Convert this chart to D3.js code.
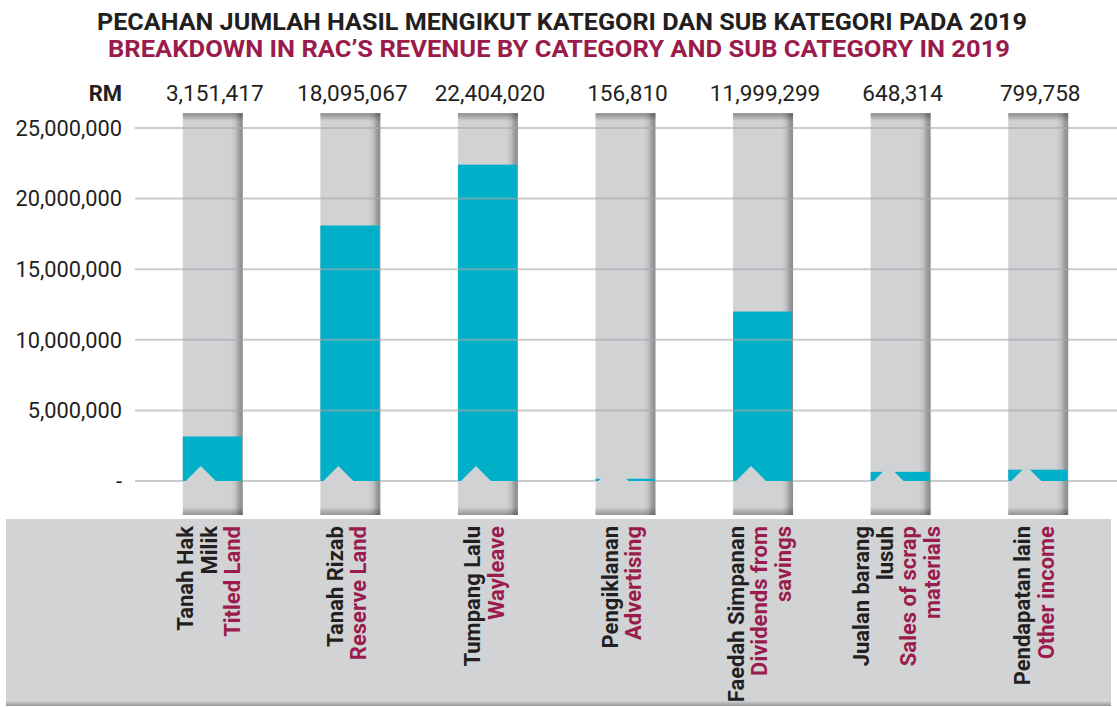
<!DOCTYPE html>
<html>
<head>
<meta charset="utf-8">
<script src="https://cdn.jsdelivr.net/npm/d3@7"></script>
<style>
  html, body { margin: 0; padding: 0; background: #ffffff; }
  svg { display: block; }
  text { font-family: Roboto, "Noto Sans", sans-serif; }
</style>
</head>
<body>
<svg id="chart" width="1117" height="707"></svg>
<script>
// Revenue by category, 2019 (RM)
const categories = ["Tanah Hak Milik", "Tanah Rizab", "Tumpang Lalu", "Pengiklanan",
                    "Faedah Simpanan", "Jualan barang lusuh", "Pendapatan lain"];
const malayLines = [["Tanah Hak", "Milik"], ["Tanah Rizab"], ["Tumpang Lalu"], ["Pengiklanan"],
                    ["Faedah Simpanan"], ["Jualan barang", "lusuh"], ["Pendapatan lain"]];
const englishLines = [["Titled Land"], ["Reserve Land"], ["Wayleave"], ["Advertising"],
                      ["Dividends from", "savings"], ["Sales of scrap", "materials"], ["Other income"]];
const revenue = [3151417, 18095067, 22404020, 156810, 11999299, 648314, 799758];
const yTicks = [0, 5000000, 10000000, 15000000, 20000000, 25000000];
const trackMax = 26050000;

const titleMalay = "PECAHAN JUMLAH HASIL MENGIKUT KATEGORI DAN SUB KATEGORI PADA 2019";
const titleEnglish = "BREAKDOWN IN RAC\u2019S REVENUE BY CATEGORY AND SUB CATEGORY IN 2019";

const TEAL = "#00afc8", TRACK = "#d1d2d4", PANEL = "#d1d3d5",
      INK = "#231f20", MAROON = "#9b1c4c";

const svg = d3.select("#chart");
const defs = svg.append("defs");

function grad(id, x2, y2, stops) {
  const g = defs.append("linearGradient").attr("id", id)
    .attr("x1", 0).attr("y1", 0).attr("x2", x2).attr("y2", y2);
  stops.forEach(([o, c, a]) => g.append("stop").attr("offset", o)
    .attr("stop-color", c).attr("stop-opacity", a));
}
grad("shadeRight", 1, 0, [["0%", "#000", 0], ["80%", "#000", 0], ["88%", "#000", 0.08],
                          ["95%", "#000", 0.28], ["100%", "#000", 0.32]]);
grad("shadeTop", 0, 1, [["0%", "#000", 0.34], ["100%", "#000", 0]]);
grad("shadeBottom", 0, 1, [["0%", "#000", 0], ["100%", "#000", 0.3]]);

const x = d3.scaleBand().domain(categories).range([144, 1107])
  .paddingInner(0.564).paddingOuter(0.282);
const y = d3.scaleLinear().domain([0, 25000000]).range([481, 128]);
const bw = x.bandwidth();
const trackBottom = y(0) + 34;

// Titles (condensed to the heading width)
svg.append("text").attr("x", 97).attr("y", 30)
  .attr("textLength", 930).attr("lengthAdjust", "spacingAndGlyphs")
  .attr("font-size", 23).attr("font-weight", 700).attr("fill", INK).text(titleMalay);
svg.append("text").attr("x", 108).attr("y", 57)
  .attr("textLength", 902).attr("lengthAdjust", "spacingAndGlyphs")
  .attr("font-size", 23).attr("font-weight", 700).attr("fill", MAROON).text(titleEnglish);

// Category label panel
svg.append("rect").attr("x", 6).attr("y", 519).attr("width", 1105).attr("height", 187).attr("fill", PANEL);
svg.append("rect").attr("x", 6).attr("y", 701).attr("width", 1105).attr("height", 5).attr("fill", "url(#shadeBottom)");

// Zero baseline sits beneath the bars
svg.append("line").attr("x1", 135).attr("x2", 1117).attr("y1", y(0)).attr("y2", y(0))
  .attr("stroke", "#a7a9ac").attr("stroke-opacity", 0.6).attr("stroke-width", 2);

// Grey tracks with shading
const bars = svg.append("g").selectAll("g").data(categories).join("g")
  .attr("transform", d => `translate(${x(d)},0)`);
bars.append("rect").attr("y", y(trackMax)).attr("width", bw)
  .attr("height", trackBottom - y(trackMax)).attr("fill", TRACK);
bars.append("rect").attr("y", y(trackMax)).attr("width", bw)
  .attr("height", trackBottom - y(trackMax)).attr("fill", "url(#shadeRight)");
bars.append("rect").attr("y", y(trackMax)).attr("width", bw).attr("height", 8).attr("fill", "url(#shadeTop)");
bars.append("rect").attr("y", trackBottom - 8).attr("width", bw).attr("height", 8).attr("fill", "url(#shadeBottom)");

// Gridlines
svg.append("g").selectAll("line").data(yTicks.filter(t => t > 0)).join("line")
  .attr("x1", 135).attr("x2", 1117).attr("y1", d => y(d)).attr("y2", d => y(d))
  .attr("stroke", "#a7a9ac").attr("stroke-opacity", 0.6).attr("stroke-width", 2);

// Revenue bars
bars.append("rect").attr("y", (d, i) => y(revenue[i])).attr("width", bw - 1)
  .attr("height", (d, i) => y(0) - y(revenue[i])).attr("fill", TEAL);
// Mountain notch at the foot of each bar
bars.append("path").attr("fill", TRACK)
  .attr("d", `M${18 - 16},${y(0) + 1} L18,${y(0) - 15} L${18 + 16},${y(0) + 1} Z`);

// Y axis labels
svg.append("g").selectAll("text").data(yTicks).join("text")
  .attr("x", 122).attr("y", d => y(d)).attr("dy", "0.36em").attr("text-anchor", "end")
  .attr("font-size", 21.8).attr("fill", INK)
  .text(d => d === 0 ? "-" : d3.format(",")(d));

// Value row
svg.append("text").attr("x", 122).attr("y", 101).attr("text-anchor", "end")
  .attr("font-size", 22).attr("font-weight", 700).attr("fill", INK).text("RM");
svg.append("g").selectAll("text").data(categories).join("text")
  .attr("x", d => x(d) + bw / 2 + 2).attr("y", 101).attr("text-anchor", "middle")
  .attr("font-size", 22.6).attr("fill", INK)
  .text((d, i) => d3.format(",")(revenue[i]));

// Rotated category labels
const lh = 23.5;
const labels = svg.append("g").selectAll("g").data(categories).join("g")
  .attr("transform", d => `translate(${x(d) + bw / 2 - 4},526) rotate(-90)`);
labels.each(function (d, i) {
  const lines = malayLines[i].map(t => [t, INK]).concat(englishLines[i].map(t => [t, MAROON]));
  const n = lines.length;
  d3.select(this).selectAll("text").data(lines).join("text")
    .attr("x", 0).attr("y", (l, k) => (k - (n - 1) / 2) * lh + 8)
    .attr("text-anchor", "end").attr("font-size", 22).attr("font-weight", 700)
    .attr("fill", l => l[1]).text(l => l[0]);
});
</script>
</body>
</html>
